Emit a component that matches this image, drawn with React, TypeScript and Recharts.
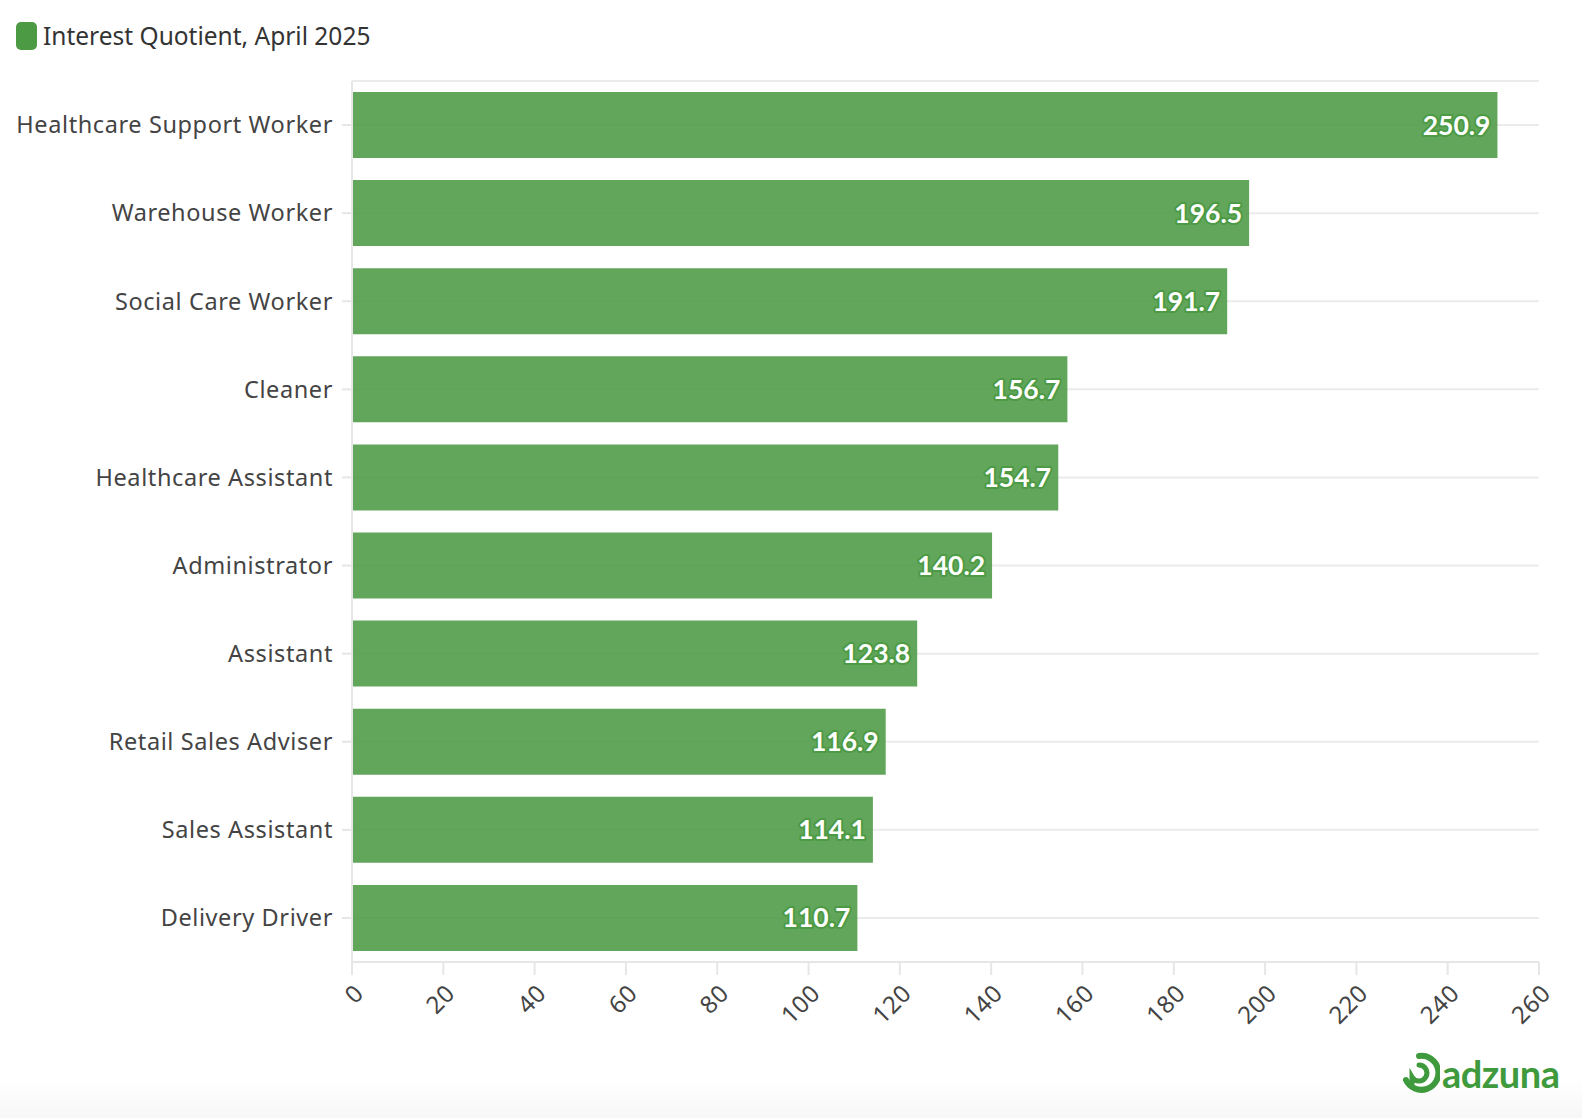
import React from 'react';
import { BarChart, Bar, XAxis, YAxis, CartesianGrid, LabelList } from 'recharts';

const CATEGORIES = [
  'Healthcare Support Worker',
  'Warehouse Worker',
  'Social Care Worker',
  'Cleaner',
  'Healthcare Assistant',
  'Administrator',
  'Assistant',
  'Retail Sales Adviser',
  'Sales Assistant',
  'Delivery Driver',
];

const VALUES = [250.9, 196.5, 191.7, 156.7, 154.7, 140.2, 123.8, 116.9, 114.1, 110.7];

const X_TICKS = [0, 20, 40, 60, 80, 100, 120, 140, 160, 180, 200, 220, 240, 260];

const SERIES_NAME = 'Interest Quotient, April 2025';

const GREEN = '#4c9a44';
const FONT = '"Noto Sans", Lato, sans-serif';
const NUM_FONT = 'Lato, "Noto Sans", sans-serif';

const data = CATEGORIES.map((name, i) => ({ name, value: VALUES[i] }));

const XTick = (props: any) => {
  const { x, y, payload } = props;
  const ex = x + 13;
  const ey = y + 18;
  return (
    <text
      x={ex}
      y={ey}
      transform={`rotate(-45, ${ex}, ${ey})`}
      textAnchor="end"
      fill="#444"
      fontSize={24}
      letterSpacing={0.5}
      fontFamily={FONT}
    >
      {payload.value}
    </text>
  );
};

const ValueLabel = (props: any) => {
  const { x, y, width, height, value } = props;
  return (
    <text
      x={x + width - 7}
      y={y + height / 2}
      dy="0.36em"
      textAnchor="end"
      fill="#fff"
      stroke={GREEN}
      strokeWidth={4}
      paintOrder="stroke"
      strokeLinejoin="round"
      fontSize={26.5}
      fontWeight={700}
      fontFamily={NUM_FONT}
    >
      {value.toFixed(1)}
    </text>
  );
};

const App: React.FC = () => {
  return (
    <div
      style={{
        position: 'absolute',
        left: 0,
        top: 0,
        width: 1582,
        height: 1118,
        background: '#fff',
        fontFamily: FONT,
        overflow: 'hidden',
      }}
    >
      <div
        style={{
          position: 'absolute',
          left: 0,
          right: 0,
          bottom: 0,
          height: 40,
          background: 'linear-gradient(to bottom, rgba(247,247,247,0), rgba(247,247,247,1))',
        }}
      />
      <div style={{ position: 'absolute', left: 16, top: 19, display: 'flex', alignItems: 'center' }}>
        <div style={{ width: 21, height: 28, borderRadius: 5, background: GREEN }} />
        <span style={{ marginLeft: 6, fontSize: 24.5, color: '#333' }}>{SERIES_NAME}</span>
      </div>

      <BarChart
        width={1582}
        height={1118}
        data={data}
        layout="vertical"
        margin={{ top: 81, right: 43, bottom: 126, left: 0 }}
        style={{ position: 'absolute', left: 0, top: 0 }}
      >
        <CartesianGrid vertical={false} stroke="#ebebeb" strokeWidth={2} />
        <XAxis
          type="number"
          domain={[0, 260]}
          ticks={X_TICKS}
          interval={0}
          height={30}
          tickSize={13}
          axisLine={{ stroke: '#e6e6e6', strokeWidth: 2 }}
          tickLine={{ stroke: '#e6e6e6', strokeWidth: 2 }}
          tick={<XTick />}
        />
        <YAxis
          type="category"
          dataKey="name"
          width={352}
          tickSize={10}
          tickMargin={9}
          axisLine={{ stroke: '#e6e6e6', strokeWidth: 2 }}
          tickLine={{ stroke: '#e6e6e6', strokeWidth: 2 }}
          tick={{ fill: '#444', fontSize: 23.5, letterSpacing: 0.6, fontFamily: FONT }}
        />
        <Bar dataKey="value" fill={GREEN} fillOpacity={0.88} barSize={66} isAnimationActive={false}>
          <LabelList dataKey="value" content={<ValueLabel />} />
        </Bar>
      </BarChart>

      <div
        style={{
          position: 'absolute',
          left: 1398,
          top: 1052,
          display: 'flex',
          alignItems: 'center',
        }}
      >
        <svg width={42} height={42} viewBox="0 0 42 42">
          <path
            d="M21 4 A17 17 0 1 1 8 28"
            fill="none"
            stroke="#3e9a3c"
            strokeWidth={6}
            strokeLinecap="round"
          />
          <path
            d="M21 13 A8 8 0 1 1 14 25 L14 34"
            fill="none"
            stroke="#3e9a3c"
            strokeWidth={5}
            strokeLinecap="round"
          />
        </svg>
        <span
          style={{
            marginLeft: 2,
            fontSize: 38,
            fontWeight: 700,
            fontFamily: NUM_FONT,
            color: '#3e9a3c',
            letterSpacing: -0.5,
            lineHeight: 1,
          }}
        >
          adzuna
        </span>
      </div>
    </div>
  );
};

export default App;
